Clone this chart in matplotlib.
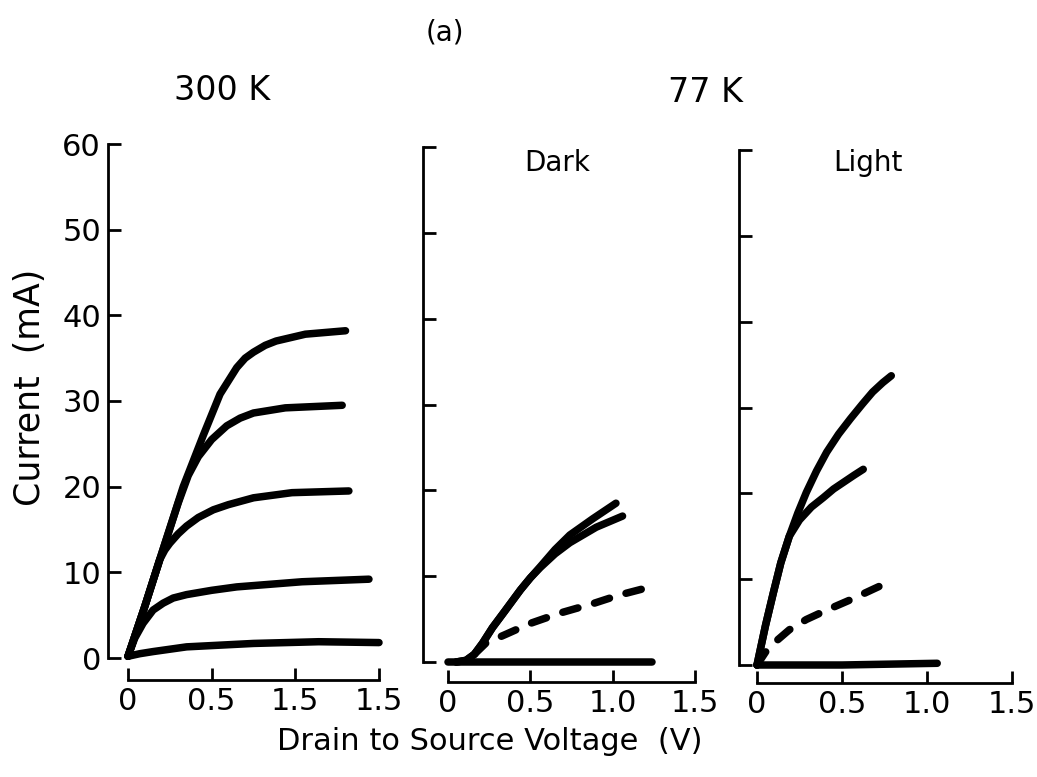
import matplotlib
matplotlib.use("Agg")
import matplotlib.pyplot as plt

plt.rcParams['font.family'] = ['DejaVu Sans']

# ---------------- data ----------------
# 300 K panel (drain-source voltage V, current mA)
v300_1 = [0, 0.10, 0.19, 0.33, 0.45, 0.55, 0.65, 0.70, 0.75, 0.82, 0.885, 1.06, 1.30]
i300_1 = [0.2, 6.0, 11.5, 20.0, 26.0, 30.8, 33.9, 35.0, 35.7, 36.5, 37.0, 37.8, 38.2]
v300_2 = [0, 0.10, 0.19, 0.30, 0.36, 0.42, 0.50, 0.59, 0.67, 0.75, 0.94, 1.28]
i300_2 = [0.2, 6.0, 11.5, 18.1, 21.3, 23.5, 25.5, 27.1, 28.0, 28.6, 29.2, 29.5]
v300_3 = [0, 0.10, 0.19, 0.22, 0.25, 0.30, 0.35, 0.42, 0.51, 0.60, 0.75, 0.98, 1.32]
i300_3 = [0.2, 6.0, 11.5, 12.6, 13.4, 14.5, 15.4, 16.4, 17.3, 17.9, 18.7, 19.3, 19.5]
v300_4 = [0, 0.04, 0.09, 0.15, 0.21, 0.27, 0.35, 0.50, 0.65, 1.04, 1.44]
i300_4 = [0.2, 2.3, 4.05, 5.6, 6.4, 7.0, 7.4, 7.9, 8.3, 8.9, 9.2]
v300_5 = [0, 0.07, 0.15, 0.35, 0.55, 0.75, 1.14, 1.50]
i300_5 = [0.2, 0.5, 0.75, 1.3, 1.5, 1.7, 1.9, 1.8]

# 77 K dark panel
vdark_flat = [0, 1.24]
idark_flat = [0, 0]
vdark_1 = [0.05, 0.11, 0.16, 0.21, 0.27, 0.34, 0.44, 0.50, 0.56, 0.65, 0.74, 0.88, 1.02]
idark_1 = [0, 0.2, 0.9, 2.2, 4.0, 5.8, 8.4, 9.8, 11.1, 13.1, 14.8, 16.7, 18.5]
vdark_2 = [0.05, 0.11, 0.16, 0.21, 0.27, 0.34, 0.44, 0.50, 0.56, 0.65, 0.74, 0.90, 1.06]
idark_2 = [0, 0.2, 0.9, 2.2, 4.0, 5.8, 8.4, 9.8, 11.0, 12.6, 13.9, 15.7, 17.0]
vdark_d = [0.16, 0.23, 0.36, 0.50, 0.68, 0.88, 1.04, 1.24]
idark_d = [0.9, 2.2, 3.3, 4.5, 5.7, 6.8, 7.8, 8.8]

# 77 K light panel
vlight_flat = [0, 0.5, 1.06]
ilight_flat = [0, 0, 0.2]
vlight_1 = [0, 0.05, 0.096, 0.14, 0.19, 0.24, 0.29, 0.35, 0.41, 0.48, 0.55, 0.62, 0.68, 0.74, 0.79]
ilight_1 = [0, 4.6, 8.4, 11.9, 15.0, 17.7, 20.1, 22.6, 24.8, 26.9, 28.7, 30.4, 31.8, 32.9, 33.7]
vlight_2 = [0, 0.05, 0.096, 0.14, 0.19, 0.25, 0.32, 0.39, 0.45, 0.51, 0.57, 0.625]
ilight_2 = [0, 4.6, 8.4, 11.9, 15.0, 16.9, 18.4, 19.5, 20.5, 21.3, 22.1, 22.8]
vlight_d = [0, 0.05, 0.096, 0.19, 0.29, 0.41, 0.55, 0.68, 0.80]
ilight_d = [0, 1.5, 2.5, 4.1, 5.3, 6.4, 7.6, 8.8, 9.9]

yticks = [0, 10, 20, 30, 40, 50, 60]
ytick_labels = ['0', '10', '20', '30', '40', '50', '60']
xticks = [0, 0.5, 1.0, 1.5]
xlabels_300 = ['0', '0.5', '1.5', '1.5']
xlabels_77 = ['0', '0.5', '1.0', '1.5']

# ---------------- layout ----------------
W, H = 1037, 777
fig = plt.figure(figsize=(W / 100, H / 100), dpi=100)

LW = 5.4


def make_ax(spine_x, x0, x15, y0, y60, xaxis, right):
    sx = (x15 - x0) / 1.5
    sy = (y0 - y60) / 60.0
    ax = fig.add_axes([spine_x / W, (H - xaxis) / H,
                       (right - spine_x) / W, (xaxis - y60) / H])
    ax.set_xlim((spine_x - x0) / sx, (right - x0) / sx)
    ax.set_ylim((y0 - xaxis) / sy, 60)
    for s in ('top', 'right'):
        ax.spines[s].set_visible(False)
    for s in ('left', 'bottom'):
        ax.spines[s].set_linewidth(2.0)
        ax.spines[s].set_capstyle('projecting')
    ax.spines['left'].set_bounds(0, 60)
    ax.spines['bottom'].set_bounds(0, 1.5)
    ax.set_yticks(yticks)
    ax.set_xticks(xticks)
    ax.tick_params(axis='y', direction='in', length=9.5, width=2.0, pad=5,
                   labelsize=22)
    ax.tick_params(axis='x', direction='in', length=8.5, width=2.0, pad=5,
                   labelsize=22)
    ax.patch.set_alpha(0)
    return ax


def curve(ax, v, i, dashed=False):
    if dashed:
        ax.plot(v, i, color='black', lw=LW, linestyle=(0, (2.1, 2.3)),
                dash_capstyle='round', dash_joinstyle='round', clip_on=False)
    else:
        ax.plot(v, i, color='black', lw=LW, solid_capstyle='round',
                solid_joinstyle='round', clip_on=False)


ax1 = make_ax(108, 128, 379, 658, 144, 680, 392)
ax2 = make_ax(423, 448, 695, 662, 147, 682, 708)
ax3 = make_ax(739, 757, 1012, 665, 150, 683, 1025)

ax1.set_yticklabels(ytick_labels)
ax2.set_yticklabels([])
ax3.set_yticklabels([])
ax1.set_xticklabels(xlabels_300)
ax2.set_xticklabels(xlabels_77)
ax3.set_xticklabels(xlabels_77)

for v, i in [(v300_1, i300_1), (v300_2, i300_2), (v300_3, i300_3),
             (v300_4, i300_4), (v300_5, i300_5)]:
    curve(ax1, v, i)

curve(ax2, vdark_flat, idark_flat)
curve(ax2, vdark_d, idark_d, dashed=True)
curve(ax2, vdark_1, idark_1)
curve(ax2, vdark_2, idark_2)

curve(ax3, vlight_flat, ilight_flat)
curve(ax3, vlight_d, ilight_d, dashed=True)
curve(ax3, vlight_1, ilight_1)
curve(ax3, vlight_2, ilight_2)


def ftext(x, y, s, size, **kw):
    fig.text(x / W, 1 - y / H, s, fontsize=size, ha='center', va='center', **kw)


ftext(445, 32, '(a)', 20)
ftext(222, 91, '300 K', 24)
ftext(705, 92, '77 K', 24)
ftext(557, 163, 'Dark', 20)
ftext(868, 163, 'Light', 20)
ftext(30, 387, 'Current  (mA)', 25, rotation=90)
ftext(490, 742, 'Drain to Source Voltage  (V)', 22)

fig.savefig('out.png', dpi=100)
